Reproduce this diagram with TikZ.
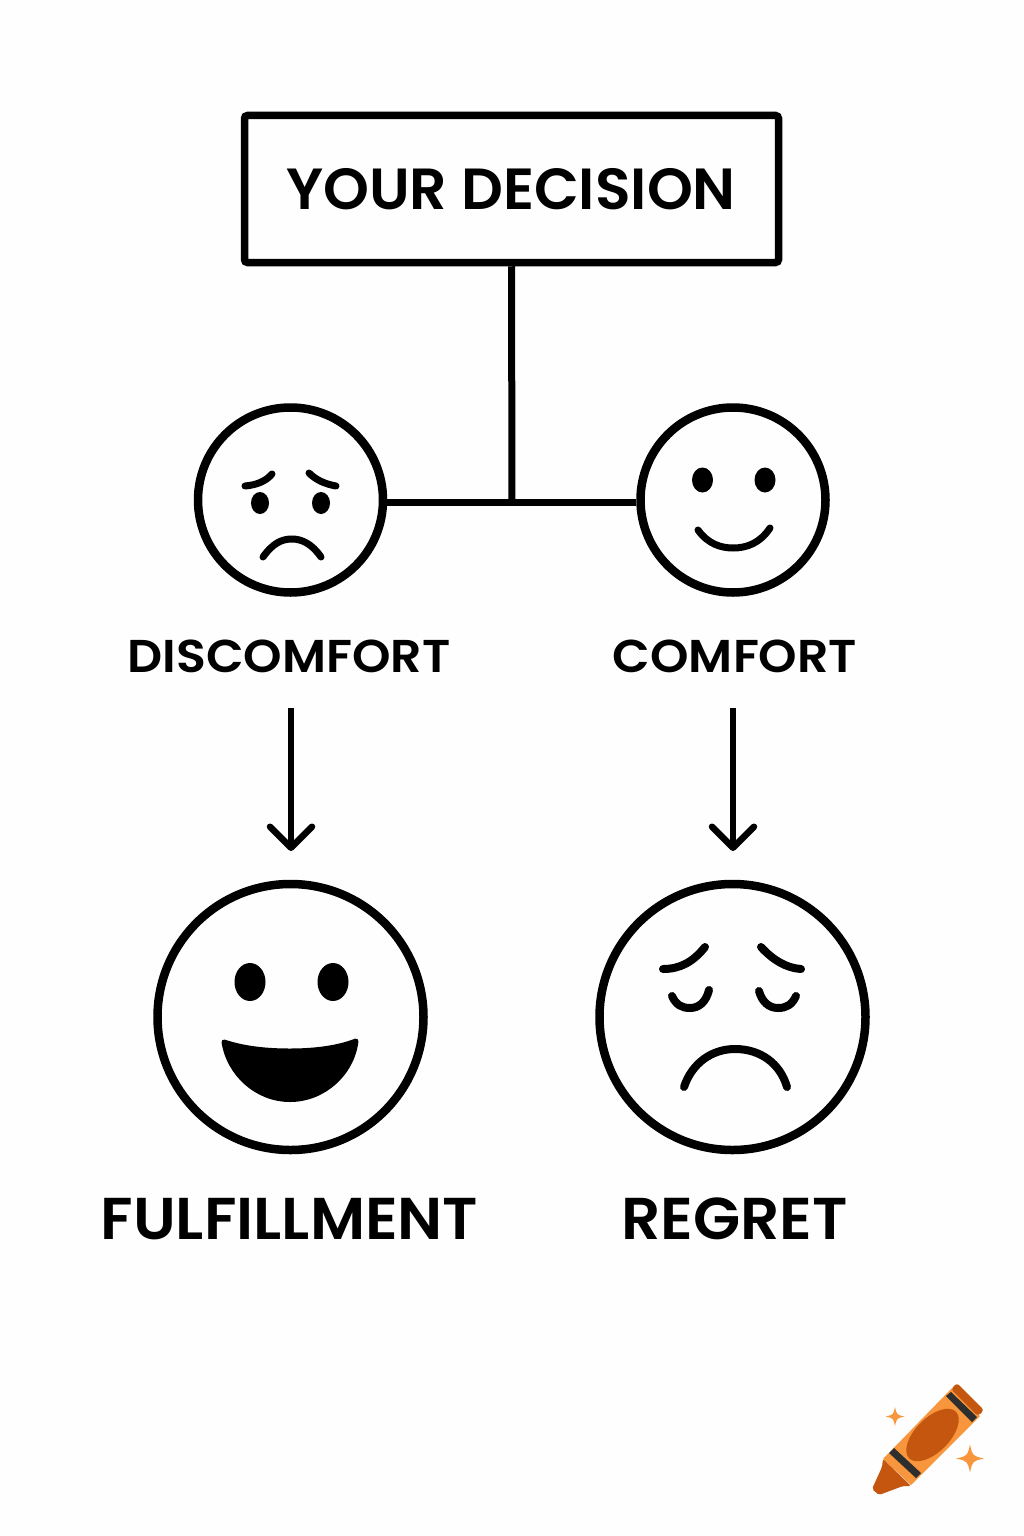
\documentclass[tikz,border=0pt]{standalone}
\usepackage{fontspec}
\setmainfont{Poppins SemiBold}
\usetikzlibrary{arrows.meta,calc}
\definecolor{ink}{HTML}{000000}
\definecolor{paper}{HTML}{FEFEFE}
\definecolor{crayLight}{HTML}{F7963C}
\definecolor{crayDark}{HTML}{C4560F}
\definecolor{crayBand}{HTML}{2E2E2E}
\newcommand{\sparkleat}[3]{\fill[crayLight] ($(#1,#2)+(0,-#3)$) .. controls ($(#1,#2)+(.18*#3,-.18*#3)$) .. ($(#1,#2)+(#3,0)$) .. controls ($(#1,#2)+(.18*#3,.18*#3)$) .. ($(#1,#2)+(0,#3)$) .. controls ($(#1,#2)+(-.18*#3,.18*#3)$) .. ($(#1,#2)+(-#3,0)$) .. controls ($(#1,#2)+(-.18*#3,-.18*#3)$) .. cycle;}
\tikzset{
  x=1pt,y=-1pt,
  boxnode/.style={draw=ink,line width=7.5pt,rounded corners=3pt,minimum width=534pt,minimum height=147pt,inner sep=0pt},
  facecircle/.style={circle,draw=ink,line width=8.5pt,inner sep=0pt,fill=none},
  smallface/.style={facecircle,minimum size=185pt},
  bigface/.style={facecircle,minimum size=266pt},
  link/.style={draw=ink,line width=7pt},
  flow/.style={draw=ink,line width=6.5pt,-{Straight Barb[length=21pt,width=42pt,line width=6.5pt,round]}},
  feature/.style={draw=ink,line width=7pt,line cap=round},
  heavy/.style={feature,line width=8pt},
  lab/.style={text=ink,inner sep=0pt,anchor=center},
  midlab/.style={lab,font=\fontsize{46}{46}\selectfont\addfontfeature{FakeStretch=1.065}},
  biglab/.style={lab,font=\fontsize{59}{59}\selectfont\addfontfeature{FakeStretch=1.04}},
}
\begin{document}
\begin{tikzpicture}
\useasboundingbox (0,0) rectangle (1024,1536);
\fill[paper] (0,0) rectangle (1024,1536);

\node[boxnode] (decision) at (511.5,189) {};
\node[lab,font=\fontsize{58}{58}\selectfont\addfontfeature{FakeStretch=1.007}] (decisiontext) at (511,189) {YOUR DECISION};

\node[smallface] (discomfort) at (290.5,500) {};
\node[smallface] (comfort) at (733,500) {};
\node[bigface] (fulfillment) at (290.5,1017) {};
\node[bigface] (regret) at (732.5,1017) {};

\coordinate (junction) at (512,502.5);
\draw[link] (decision.south) -- (junction);
\draw[link] (discomfort.east |- junction) -- (comfort.west |- junction);

\node[midlab] (ldiscomfort) at (289,656) {DISCOMFORT};
\node[midlab] (lcomfort) at (735,656) {COMFORT};
\node[biglab] (lfulfillment) at (289.5,1219) {FULFILLMENT};
\node[biglab] (lregret) at (734.5,1219) {REGRET};

\coordinate (a1s) at (291,708); \coordinate (a1e) at (291,851);
\coordinate (a2s) at (733,708); \coordinate (a2e) at (733,851);
\draw[flow] (a1s) -- (a1e);
\draw[flow] (a2s) -- (a2e);

% discomfort face
\draw[feature] (245,486) .. controls (257,485) and (266,481) .. (272,474);
\draw[feature] (309,473) .. controls (316,480) and (325,484) .. (336,486);
\fill[ink] (260,503) ellipse [x radius=9,y radius=11];
\fill[ink] (321,503) ellipse [x radius=9,y radius=11];
\draw[feature] (263,557) .. controls (273,543) and (282,539) .. (292,539) .. controls (302,539) and (312,544) .. (321,557);

% comfort face
\fill[ink] (702.5,480) ellipse [x radius=10.5,y radius=12.5];
\fill[ink] (765,480) ellipse [x radius=10.5,y radius=12.5];
\draw[feature] (698,530) .. controls (708,544) and (721,548) .. (733,548) .. controls (747,548) and (760,543) .. (770,528);

% fulfilment face
\fill[ink] (250,982) ellipse [x radius=15.5,y radius=19];
\fill[ink] (333,982) ellipse [x radius=15.5,y radius=19];
\filldraw[ink,line width=5pt,line join=round] (224,1042) .. controls (245,1049) and (268,1051) .. (290,1051) .. controls (315,1051) and (338,1048) .. (356,1041) .. controls (352,1074) and (323,1099.5) .. (290,1099.5) .. controls (257,1099.5) and (229,1074) .. cycle;

% regret face
\draw[heavy] (663,969) .. controls (680,969) and (693,962) .. (705,947);
\draw[heavy] (761,947) .. controls (773,960) and (786,968) .. (801,969);
\draw[heavy] (672,996) .. controls (676,1005) and (682,1008) .. (690,1008) .. controls (699,1008) and (706,1002) .. (709,990);
\draw[heavy] (759,991) .. controls (762,1002) and (769,1008) .. (778,1008) .. controls (786,1008) and (792,1005) .. (796,996);
\draw[heavy] (684,1087) .. controls (692,1063) and (712,1049) .. (735,1049) .. controls (760,1049) and (780,1063) .. (787,1087);

% crayon mark
\fill[crayLight] (883,1459) -- (911,1485) -- (980,1416) -- (952,1388) -- cycle;
\fill[crayDark,rounded corners=3pt] (951,1389) -- (957,1383) -- (984,1410) -- (978,1416) -- cycle;
\fill[crayBand] (946,1396) -- (951,1392) -- (977,1417) -- (972,1422) -- cycle;
\fill[crayBand] (889,1453) -- (894,1448) -- (921,1473) -- (916,1478) -- cycle;
\fill[crayDark] (932.5,1435) ellipse [x radius=33,y radius=17,rotate=45];
\fill[crayDark,rounded corners=2pt] (883,1459) -- (911,1486) -- (903,1486) -- (879,1495) -- (872,1489) -- (882,1467) -- cycle;
\sparkleat{895}{1416.5}{9.5}
\sparkleat{970}{1458.5}{14}
\end{tikzpicture}
\end{document}
